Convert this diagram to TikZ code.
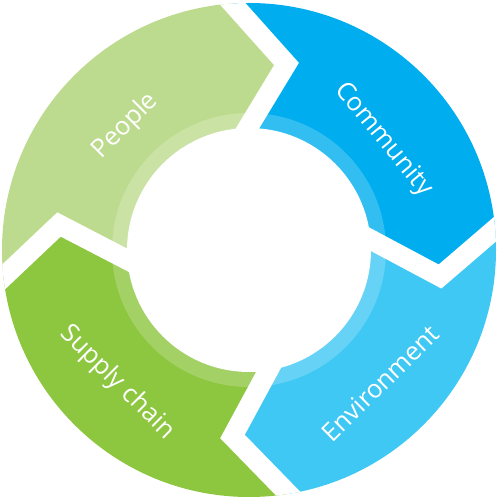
\documentclass[tikz,border=0pt]{standalone}
\usepackage{fontspec}
\usetikzlibrary{calc}
\setmainfont{Open Sans}
\definecolor{cPeople}{RGB}{189,219,142}
\definecolor{cCommunity}{RGB}{0,174,239}
\definecolor{cEnvironment}{RGB}{64,200,244}
\definecolor{cSupply}{RGB}{141,198,63}
\tikzset{
  seglabel/.style={text=white, font=\fontsize{14.5}{16}\selectfont, inner sep=0pt},
  gapline/.style={draw=white, line width=0.4cm, line join=miter},
}
\begin{document}
\begin{tikzpicture}[x=0.02cm, y=0.02cm]
\useasboundingbox (0,0) rectangle (500,500);
\begin{scope}[shift={(249,250)}]
  % measured gap centre-lines (outer, tip, inner)
  \coordinate (o1) at (-13,242.5);  \coordinate (M1) at (37.5,186);    \coordinate (i1) at (-2.5,120);
  \coordinate (o2) at (248,22.5);   \coordinate (M2) at (191,-26.5);   \coordinate (i2) at (122.5,10);
  \coordinate (o3) at (39.5,-244);  \coordinate (M3) at (-16.5,-186.5);\coordinate (i3) at (19.5,-120);
  \coordinate (o4) at (-246.5,-28); \coordinate (M4) at (-190,25.5);   \coordinate (i4) at (-121.5,-10);
  \foreach \k in {1,2,3,4}{
    \coordinate (O\k) at ($(M\k)!1.9!(o\k)$);
    \coordinate (I\k) at ($(M\k)!1.3!(i\k)$);
  }
  \coordinate (C) at (0,0);
  \begin{scope}
    \clip (C) circle[radius=247];
    \fill[cPeople] (O4) -- (M4) -- (I4) -- (C) -- (I1) -- (M1) -- (O1) -- (135:420) -- cycle;
    \fill[cCommunity] (O1) -- (M1) -- (I1) -- (C) -- (I2) -- (M2) -- (O2) -- (45:420) -- cycle;
    \fill[cEnvironment] (O2) -- (M2) -- (I2) -- (C) -- (I3) -- (M3) -- (O3) -- (-45:420) -- cycle;
    \fill[cSupply] (O3) -- (M3) -- (I3) -- (C) -- (I4) -- (M4) -- (O4) -- (225:420) -- cycle;
    \fill[white, opacity=0.2, even odd rule] (C) circle[radius=137] (C) circle[radius=122];
    \draw[gapline] (O1) -- (M1) -- (I1);
    \draw[gapline] (O2) -- (M2) -- (I2);
    \draw[gapline] (O3) -- (M3) -- (I3);
    \draw[gapline] (O4) -- (M4) -- (I4);
    \fill[white] (C) circle[radius=122];
  \end{scope}
  \node[seglabel, rotate=45]  (people)  at (135:175)  {People};
  \node[seglabel, rotate=-50.6] (community) at (39.4:174) {Community};
  \node[seglabel, rotate=44.6] (environment) at (-45.4:187) {Environment};
  \node[seglabel, rotate=-44.8] (supply) at (225.2:187) {Supply chain};
\end{scope}
\end{tikzpicture}
\end{document}
